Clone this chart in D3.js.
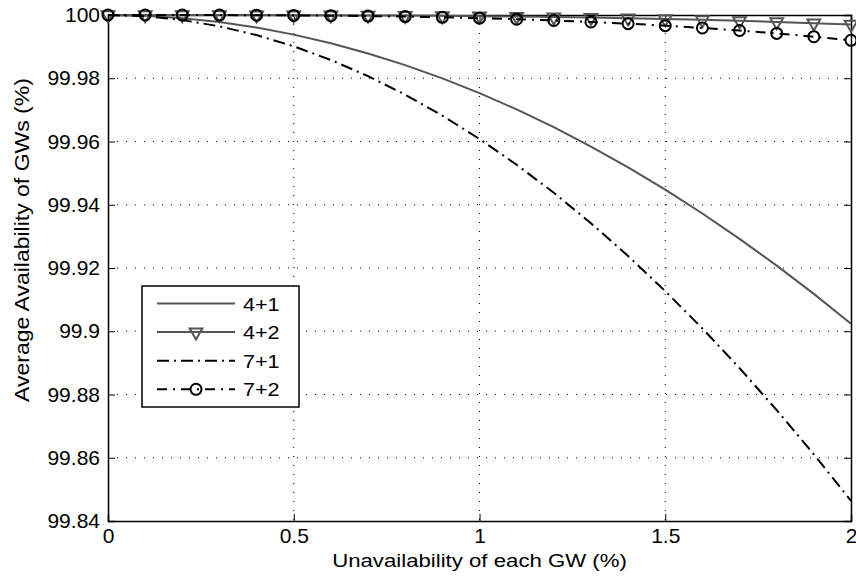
<!DOCTYPE html>
<head>
    <meta charset="utf-8">
    <title>Average availability of GWs</title>
    <style>
        body { margin: 0; background: #fff; }
        text { font-family: "Liberation Sans", Arial, sans-serif; fill: #000; }
    </style>
</head>
<body>

<svg width="856" height="578"></svg>

<script src="https://d3js.org/d3.v7.min.js"></script>

<script>

// unavailability of each GW (%)
var unavail = [0, 0.1, 0.2, 0.3, 0.4, 0.5, 0.6, 0.7, 0.8, 0.9, 1.0,
               1.1, 1.2, 1.3, 1.4, 1.5, 1.6, 1.7, 1.8, 1.9, 2.0];

// average availability (%)
var avail41 = [100, 99.99975, 99.99900, 99.99776, 99.99602, 99.99379, 99.99106, 99.98785, 99.98415, 99.97997, 99.9753,
               99.97015, 99.96452, 99.95841, 99.95182, 99.94476, 99.93723, 99.92922, 99.92075, 99.91181, 99.9024];
var avail42 = [100, 100, 100, 99.99999, 99.99998, 99.99995, 99.99992, 99.99987, 99.99981, 99.99973, 99.99963,
               99.9995, 99.99935, 99.99918, 99.99897, 99.99873, 99.99846, 99.99816, 99.99781, 99.99743, 99.997];
var avail71 = [100, 99.9996, 99.99841, 99.99642, 99.99365, 99.9901, 99.98577, 99.98067, 99.97481, 99.96818, 99.9608,
               99.95266, 99.94378, 99.93416, 99.9238, 99.9127, 99.90088, 99.88833, 99.87507, 99.86109, 99.8464];
var avail72 = [100, 100, 99.99999, 99.99997, 99.99994, 99.99988, 99.99978, 99.99966, 99.99949, 99.99927, 99.999,
               99.99867, 99.99827, 99.9978, 99.99726, 99.99663, 99.9959, 99.99509, 99.99417, 99.99314, 99.992];

var seriesNames = ['4+1', '4+2', '7+1', '7+2'];

var xTicks = [0, 0.5, 1, 1.5, 2];
var yTicks = [99.84, 99.86, 99.88, 99.9, 99.92, 99.94, 99.96, 99.98, 100];

var svg = d3.select('svg');

var margin = {left: 108, right: 5, top: 15, bottom: 57},
    width = 856 - margin.left - margin.right,
    height = 578 - margin.top - margin.bottom;

var x = d3.scaleLinear().domain([0, 2]).range([0, width]);
var y = d3.scaleLinear().domain([99.84, 100]).range([height, 0]);

var g = svg.append('g')
    .attr('transform', `translate(${margin.left},${margin.top})`);

// dotted grid
g.append('g').selectAll('line')
    .data(xTicks.slice(1, -1))
    .enter().append('line')
        .attr('x1', d => x(d)).attr('x2', d => x(d))
        .attr('y1', 0).attr('y2', height)
        .attr('stroke', '#000').attr('stroke-width', 1)
        .attr('stroke-dasharray', '1,8');

g.append('g').selectAll('line')
    .data(yTicks.slice(1, -1))
    .enter().append('line')
        .attr('x1', 0).attr('x2', width)
        .attr('y1', d => y(d)).attr('y2', d => y(d))
        .attr('stroke', '#000').attr('stroke-width', 1)
        .attr('stroke-dasharray', '1,8');

// axes, ticks inside like matlab
var tickLen = 7;
var xAxis = g.append('g')
    .attr('transform', `translate(0,${height})`)
    .call(d3.axisBottom(x).tickValues(xTicks).tickSize(-tickLen).tickPadding(7).tickFormat(d3.format('')));
var xAxisTop = g.append('g')
    .call(d3.axisTop(x).tickValues(xTicks).tickSize(-tickLen).tickFormat(''));
var yAxis = g.append('g')
    .call(d3.axisLeft(y).tickValues(yTicks).tickSize(-tickLen).tickPadding(8).tickFormat(d3.format('')));
var yAxisRight = g.append('g')
    .attr('transform', `translate(${width},0)`)
    .call(d3.axisRight(y).tickValues(yTicks).tickSize(-tickLen).tickFormat(''));

[xAxis, xAxisTop, yAxis, yAxisRight].forEach(a => {
    a.select('.domain').attr('stroke', '#000').attr('stroke-width', 1.5);
    a.selectAll('.tick line').attr('stroke', '#000').attr('stroke-width', 1);
});

xAxis.selectAll('.tick text')
    .attr('fill', '#000')
    .style('font-size', '21px');
yAxis.selectAll('.tick text')
    .attr('fill', '#000')
    .style('font-size', '21px');

// series
var line = d3.line()
    .x((d, i) => x(unavail[i]))
    .y(d => y(d));

var styles = [
    {data: avail41, color: '#555', dash: null, marker: null},
    {data: avail42, color: '#555', dash: null, marker: 'tri'},
    {data: avail71, color: '#000', dash: '12,5,2,5', marker: null},
    {data: avail72, color: '#000', dash: '10,6,2,6', marker: 'circ'}
];

var triangle = d3.symbol().type(d3.symbolTriangle).size(70);

function drawMarker(sel, kind, color) {
    if (kind === 'tri') {
        sel.append('path')
            .attr('d', triangle)
            .attr('transform', 'rotate(180)')
            .attr('fill', 'none')
            .attr('stroke', color)
            .attr('stroke-width', 2);
    } else if (kind === 'circ') {
        sel.append('circle')
            .attr('r', 5.5)
            .attr('fill', 'none')
            .attr('stroke', color)
            .attr('stroke-width', 2);
    }
}

styles.forEach(s => {
    g.append('path')
        .datum(s.data)
        .attr('d', line)
        .attr('fill', 'none')
        .attr('stroke', s.color)
        .attr('stroke-width', 2)
        .attr('stroke-dasharray', s.dash);

    if (s.marker) {
        var m = g.append('g').selectAll('g')
            .data(s.data)
            .enter().append('g')
                .attr('transform', (d, i) => `translate(${x(unavail[i])},${y(d)})`);
        drawMarker(m, s.marker, s.color);
    }
});

// legend
var legend = svg.append('g').attr('transform', 'translate(142,286)');
legend.append('rect')
    .attr('width', 157).attr('height', 121)
    .attr('fill', '#fff')
    .attr('stroke', '#000').attr('stroke-width', 1.5);

var item = legend.selectAll('.item')
    .data(styles)
    .enter().append('g')
        .attr('class', 'item')
        .attr('transform', (d, i) => `translate(0,${17.5 + i * 28.6})`);

item.append('line')
    .attr('x1', 15).attr('x2', 93)
    .attr('stroke', d => d.color)
    .attr('stroke-width', 2)
    .attr('stroke-dasharray', d => d.dash);

item.each(function(d) {
    if (d.marker) {
        var m = d3.select(this).append('g').attr('transform', 'translate(54,0)');
        drawMarker(m, d.marker, d.color);
    }
});

item.append('text')
    .attr('transform', 'translate(101,7) scale(1.2,1)')
    .style('font-size', '18px')
    .text((d, i) => seriesNames[i]);

// axis titles
svg.append('text')
    .attr('transform', `translate(${margin.left + width / 2},567) scale(1.2,1)`)
    .attr('text-anchor', 'middle')
    .style('font-size', '18.5px')
    .text('Unavailability of each GW (%)');

svg.append('text')
    .attr('transform', 'translate(29,240) rotate(-90) scale(1.15,1)')
    .attr('text-anchor', 'middle')
    .style('font-size', '20px')
    .text('Average Availability of GWs (%)');

</script>

</body>
